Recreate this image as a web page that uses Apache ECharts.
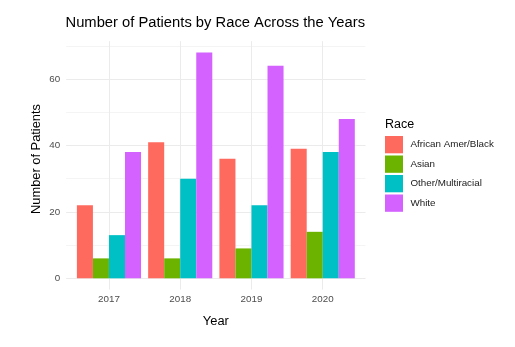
<!DOCTYPE html>
<html>
<head>
<meta charset="utf-8">
<script src="https://cdn.jsdelivr.net/npm/echarts@6/dist/echarts.min.js"></script>
<style>
html,body{margin:0;padding:0;background:#fff;}
#chart{width:515px;height:347px;}
</style>
</head>
<body>
<div id="chart"></div>
<script>
const years = ['2017', '2018', '2019', '2020'];
const races = ['African Amer/Black', 'Asian', 'Other/Multiracial', 'White'];
const africanAmerBlack = [22, 41, 36, 39];
const asian = [6, 6, 9, 14];
const otherMultiracial = [13, 30, 22, 38];
const white = [38, 68, 64, 48];
const yMajorTicks = [0, 20, 40, 60];
const yMinorTicks = [10, 30, 50, 70];
const colors = ['#FF6A5F', '#6CB300', '#00C0C5', '#D462FF'];

const seriesValues = [africanAmerBlack, asian, otherMultiracial, white];
const xPositions = years.map((y, i) => i + 1);
const FONT = 'Liberation Sans, Arial, sans-serif';

const chart = echarts.init(document.getElementById('chart'), null, {renderer: 'canvas'});
chart.setOption({
  backgroundColor: '#ffffff',
  animation: false,
  color: colors,
  title: [
    {
      text: 'Number of Patients by Race Across the Years',
      left: 65.5, top: 15.5, padding: 0,
      textStyle: {fontFamily: FONT, fontSize: 14.75, fontWeight: 'normal', color: '#000'}
    },
    {
      text: 'Race',
      left: 385, top: 118.5, padding: 0,
      textStyle: {fontFamily: FONT, fontSize: 12.5, fontWeight: 'normal', color: '#000'}
    }
  ],
  legend: {
    orient: 'vertical',
    left: 385, top: 136, padding: 0,
    itemWidth: 18, itemHeight: 17.3, itemGap: 2.2,
    icon: 'rect',
    data: races,
    textStyle: {fontFamily: FONT, fontSize: 9.8, color: '#1a1a1a', padding: [0, 0, 0, 2.5]}
  },
  graphic: [{
    type: 'text',
    x: 36, y: 159,
    rotation: Math.PI / 2,
    style: {
      text: 'Number of Patients',
      font: '12.85px ' + FONT,
      fill: '#000',
      align: 'center',
      verticalAlign: 'middle'
    }
  }],
  grid: {left: 66.2, top: 41.2, width: 299.3, height: 248.4, containLabel: false},
  xAxis: {
    type: 'value', min: 0.4, max: 4.6,
    name: 'Year', nameLocation: 'middle', nameGap: 25,
    nameTextStyle: {fontFamily: FONT, fontSize: 12.85, color: '#000'},
    axisLine: {show: false},
    axisTick: {show: false, customValues: xPositions},
    axisLabel: {
      customValues: xPositions,
      formatter: v => years[Math.round(v) - 1],
      fontFamily: FONT, fontSize: 9.8, color: '#4d4d4d', margin: 4.5
    },
    splitLine: {show: true, lineStyle: {color: '#ebebeb', width: 1}}
  },
  yAxis: [
    {
      type: 'value', min: -3.4, max: 71.4,
      axisLine: {show: false},
      axisTick: {show: false, customValues: yMajorTicks},
      axisLabel: {customValues: yMajorTicks, fontFamily: FONT, fontSize: 9.8, color: '#4d4d4d', margin: 6},
      splitLine: {show: true, lineStyle: {color: '#ebebeb', width: 1}}
    },
    {
      type: 'value', min: -3.4, max: 71.4, position: 'left',
      axisLine: {show: false},
      axisTick: {show: false, customValues: yMinorTicks},
      axisLabel: {show: false, customValues: yMinorTicks},
      splitLine: {show: true, lineStyle: {color: '#f4f4f4', width: 1}}
    }
  ],
  series: races.map((r, k) => ({
    name: r,
    type: 'bar',
    xAxisIndex: 0, yAxisIndex: 0,
    barGap: '0%',
    barCategoryGap: '10%',
    data: xPositions.map((x, i) => [x, seriesValues[k][i]]),
    itemStyle: {color: colors[k]}
  }))
});
</script>
</body>
</html>
